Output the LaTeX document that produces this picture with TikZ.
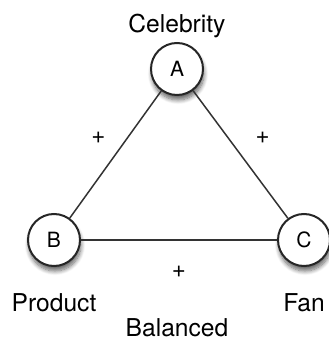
\documentclass[tikz,border=0pt]{standalone}
\usepackage{fontspec}
\setmainfont{TeX Gyre Heros}
\usepackage{tikz}
\usetikzlibrary{positioning,shadows.blur}
\tikzstyle{plainnode}=[draw=none,fill=none,inner sep=0pt,font=\fontsize{12.3}{14}\selectfont]
\tikzstyle{personnode}=[draw=black!85, line width=1pt, circle, fill=white, minimum size=26pt, inner sep=0pt, font=\fontsize{10.5}{12}\selectfont, blur shadow={shadow xshift=0.5pt, shadow yshift=-2.5pt, shadow blur steps=8, shadow opacity=60}]
\tikzstyle{tielabel}=[draw=none,fill=none,inner sep=0pt,font=\fontsize{12}{13}\selectfont]
\tikzstyle{tie}=[draw=black!80, line width=0.75pt]

\begin{document}
\begin{tikzpicture}[x=0.5pt,y=0.5pt]
\useasboundingbox (0,0) rectangle (328,-340);
\node[personnode] (A) at (177,-69) {A};
\node[personnode] (B) at (54,-240) {B};
\node[personnode] (C) at (304,-240) {C};
\node[plainnode] (celebrity) at (177,-26) {Celebrity};
\node[plainnode] (product) at (54,-303) {Product};
\node[plainnode] (fan) at (304,-303) {Fan};
\node[plainnode] (balanced) at (177,-328) {Balanced};
\draw[tie] (A) -- (B) node[tielabel, pos=0.5, xshift=-8.5pt, yshift=8.5pt] {+};
\draw[tie] (A) -- (C) node[tielabel, pos=0.5, xshift=11pt, yshift=8.5pt] {+};
\draw[tie] (B) -- (C) node[tielabel, pos=0.5, yshift=-16pt] {+};
\end{tikzpicture}
\end{document}
